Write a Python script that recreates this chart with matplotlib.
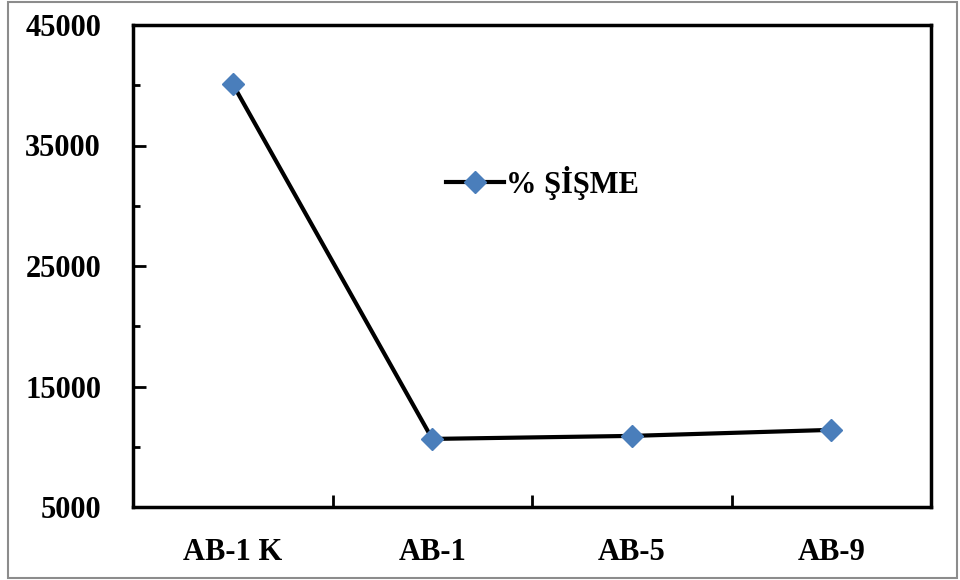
import numpy as np
import matplotlib.pyplot as plt
from matplotlib.patches import Rectangle
from matplotlib.ticker import FixedLocator, NullFormatter

samples = ["AB-1 K", "AB-1", "AB-5", "AB-9"]
swelling = [40100, 10650, 10900, 11400]
series_name = "% ŞİŞME"
y_ticks = [5000, 15000, 25000, 35000, 45000]

plt.rcParams["font.family"] = ["Liberation Serif", "DejaVu Serif"]
plt.rcParams["font.weight"] = "bold"

fig = plt.figure(figsize=(9.6, 5.8), dpi=100)
ax = fig.add_axes([133 / 960, 1 - 507 / 580, (931 - 133) / 960, (507 - 25) / 580])

x = np.arange(len(samples))
ax.plot(x, swelling, color="black", lw=3, marker="D", ms=11,
        mfc="#4A7EBB", mec="#4A7EBB", label=series_name, zorder=3)

ax.set_xlim(-0.5, len(samples) - 0.5)
ax.set_ylim(y_ticks[0], y_ticks[-1])
ax.yaxis.set_major_locator(FixedLocator(y_ticks))
ax.yaxis.set_minor_locator(FixedLocator(np.array(y_ticks[:-1]) + 5000))
ax.yaxis.set_minor_formatter(NullFormatter())

# category labels centered, tick marks on category boundaries
ax.set_xticks(x)
ax.set_xticklabels(samples)
ax.xaxis.set_minor_locator(FixedLocator(x[:-1] + 0.5))
ax.tick_params(axis="x", which="major", length=0, pad=22, labelsize=22)
ax.tick_params(axis="x", which="minor", direction="in", length=9, width=2)
ax.tick_params(axis="y", which="major", direction="in", length=9, width=2,
               labelsize=22, pad=23)
ax.tick_params(axis="y", which="minor", direction="in", length=5, width=2)

for sp in ax.spines.values():
    sp.set_linewidth(2.5)
    sp.set_color("black")

ax.legend(loc="center left", bbox_to_anchor=(0.358, 0.672), frameon=False,
          fontsize=22, handlelength=1.9, handletextpad=0.05)

fig.patches.append(Rectangle((8 / 960, 2 / 580), 949 / 960, 576 / 580,
                             transform=fig.transFigure, fill=False,
                             edgecolor="#8c8c8c", lw=1.5))

fig.savefig("out.png", dpi=100)
